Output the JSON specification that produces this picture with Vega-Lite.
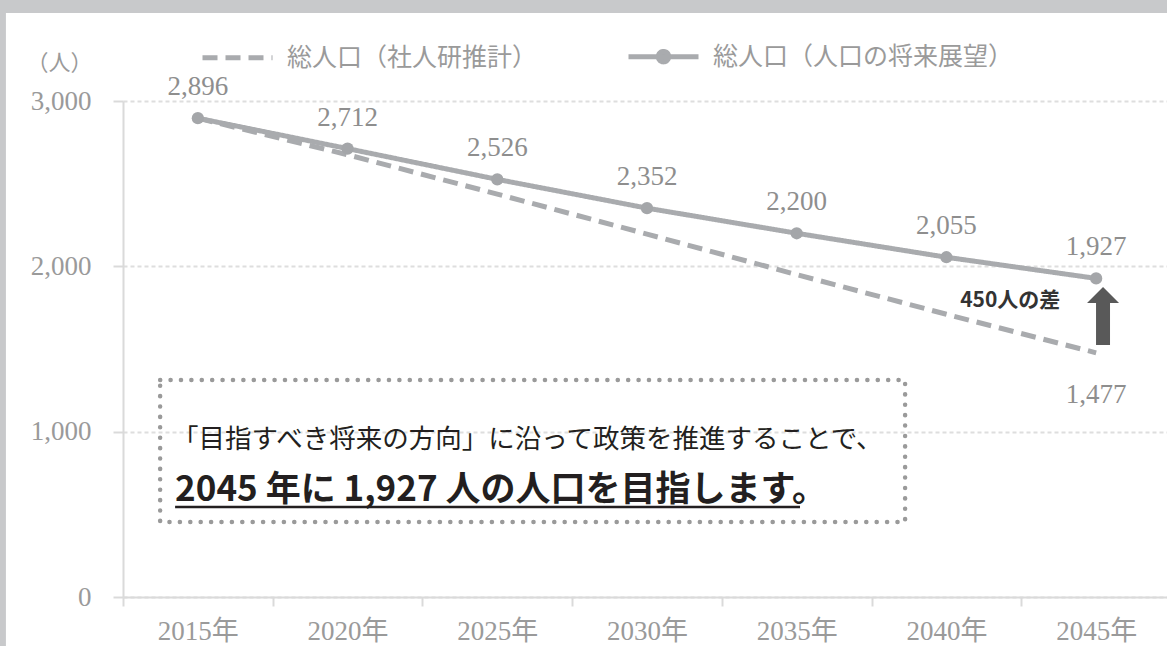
{
  "$schema": "https://vega.github.io/schema/vega-lite/v6.json",
  "width": 1044,
  "height": 496,
  "autosize": "none",
  "padding": {"left": 123, "top": 101, "right": 0, "bottom": 49},
  "background": "white",
  "config": {"view": {"stroke": null}, "font": "Noto Sans CJK JP"},
  "datasets": {
    "pop": [
      {"year": "2015年", "series": "総人口（社人研推計）", "value": 2896},
      {"year": "2020年", "series": "総人口（社人研推計）", "value": 2675},
      {"year": "2025年", "series": "総人口（社人研推計）", "value": 2437},
      {"year": "2030年", "series": "総人口（社人研推計）", "value": 2195},
      {"year": "2035年", "series": "総人口（社人研推計）", "value": 1950},
      {"year": "2040年", "series": "総人口（社人研推計）", "value": 1710},
      {"year": "2045年", "series": "総人口（社人研推計）", "value": 1477},
      {"year": "2015年", "series": "総人口（人口の将来展望）", "value": 2896},
      {"year": "2020年", "series": "総人口（人口の将来展望）", "value": 2712},
      {"year": "2025年", "series": "総人口（人口の将来展望）", "value": 2526},
      {"year": "2030年", "series": "総人口（人口の将来展望）", "value": 2352},
      {"year": "2035年", "series": "総人口（人口の将来展望）", "value": 2200},
      {"year": "2040年", "series": "総人口（人口の将来展望）", "value": 2055},
      {"year": "2045年", "series": "総人口（人口の将来展望）", "value": 1927}
    ],
    "notes": [
      {"line1": "「目指すべき将来の方向」に沿って政策を推進することで、", "line2": "2045 年に 1,927 人の人口を目指します。", "gap": "450人の差"}
    ]
  },
  "resolve": {"scale": {"x": "independent", "y": "independent"}},
  "layer": [
    {
      "data": {"name": "pop"},
      "layer": [
        {
          "mark": {"type": "line", "color": "#a9abae", "strokeWidth": 5},
          "encoding": {
            "x": {
              "field": "year", "type": "nominal", "sort": null,
              "scale": {"type": "band", "paddingInner": 0, "paddingOuter": 0, "range": [0, 1048]},
              "axis": {
                "title": null, "tickBand": "extent", "labelAngle": 0,
                "domainColor": "#dadada", "domainWidth": 2,
                "tickColor": "#dadada", "tickWidth": 2, "tickSize": 9,
                "labelFont": "Liberation Serif, Noto Sans CJK JP", "labelFontSize": 27,
                "labelColor": "#9a9a9a", "labelPadding": 12, "grid": false
              }
            },
            "y": {
              "field": "value", "type": "quantitative",
              "scale": {"domain": [0, 3000]},
              "axis": {
                "title": "（人）", "titleAngle": 0, "titleX": -64, "titleY": -39,
                "titleAlign": "center", "titleBaseline": "middle",
                "titleFont": "Noto Sans CJK JP", "titleFontWeight": "normal",
                "titleFontSize": 22, "titleColor": "#9a9a9a",
                "values": [0, 1000, 2000, 3000], "format": ",.0f",
                "labelFont": "Liberation Serif", "labelFontSize": 27,
                "labelColor": "#9a9a9a", "labelPadding": 22,
                "tickSize": 10, "tickColor": "#dadada", "tickWidth": 2,
                "domainColor": "#dadada", "domainWidth": 2,
                "grid": true, "gridColor": "#dedede", "gridDash": [4, 3], "gridWidth": 2
              }
            },
            "strokeDash": {
              "field": "series", "type": "nominal",
              "scale": {"domain": ["総人口（社人研推計）", "総人口（人口の将来展望）"], "range": [[15, 8], [1, 0]]},
              "legend": {
                "orient": "none", "legendX": 77, "legendY": -82, "direction": "horizontal",
                "title": null, "padding": 0,
                "symbolType": "stroke", "symbolSize": 4900, "symbolStrokeWidth": 5,
                "symbolStrokeColor": "#a9abae",
                "labelFont": "Noto Sans CJK JP", "labelFontSize": 25, "labelColor": "#9a9a9a",
                "labelOffset": 12, "columnPadding": 80, "labelLimit": 600,
                "encode": {
                  "symbols": {
                    "update": {
                      "shape": {"signal": "datum.value === '総人口（人口の将来展望）' ? 'M-1,0L1,0M0.15,0A0.15,0.15,0,1,1,-0.15,0A0.15,0.15,0,1,1,0.15,0Z' : 'stroke'"},
                      "fill": {"signal": "datum.value === '総人口（人口の将来展望）' ? '#a4a6a9' : 'transparent'"},
                      "stroke": {"value": "#a9abae"},
                      "strokeWidth": {"value": 5},
                      "strokeDash": {"signal": "datum.value === '総人口（社人研推計）' ? [15, 8] : [1, 0]"},
                      "opacity": {"value": 1},
                      "size": {"value": 4900}
                    }
                  }
                }
              }
            }
          }
        },
        {
          "transform": [{"filter": "datum.series === '総人口（人口の将来展望）'"}],
          "mark": {"type": "circle", "color": "#a4a6a9", "opacity": 1, "size": 150},
          "encoding": {
            "x": {"field": "year", "type": "nominal", "sort": null},
            "y": {"field": "value", "type": "quantitative"}
          }
        },
        {
          "transform": [{"filter": "datum.series === '総人口（人口の将来展望）'"}],
          "mark": {"type": "text", "dy": -31, "baseline": "middle", "align": "center", "font": "Liberation Serif", "fontSize": 27, "color": "#8e8e8e"},
          "encoding": {
            "x": {"field": "year", "type": "nominal", "sort": null},
            "y": {"field": "value", "type": "quantitative"},
            "text": {"field": "value", "type": "quantitative", "format": ",.0f"}
          }
        },
        {
          "transform": [{"filter": "datum.series === '総人口（社人研推計）' && datum.year === '2045年'"}],
          "mark": {"type": "text", "dy": 42, "baseline": "middle", "align": "center", "font": "Liberation Serif", "fontSize": 27, "color": "#8e8e8e"},
          "encoding": {
            "x": {"field": "year", "type": "nominal", "sort": null},
            "y": {"field": "value", "type": "quantitative"},
            "text": {"field": "value", "type": "quantitative", "format": ",.0f"}
          }
        }
      ]
    },
    {
      "data": {"name": "notes"},
      "layer": [
        {
          "mark": {"type": "rect", "color": "#c8c9cb"},
          "encoding": {
            "x": {"datum": 2007.5, "type": "quantitative", "scale": {"domain": [2012.5, 2047.5], "range": [0, 1048], "zero": false, "nice": false}, "axis": null},
            "x2": {"datum": 2008.59},
            "y": {"datum": -400, "type": "quantitative", "scale": {"domain": [0, 3000]}, "axis": null},
            "y2": {"datum": 3800}
          }
        },
        {
          "mark": {"type": "rect", "color": "#c8c9cb"},
          "encoding": {
            "x": {"datum": 2007.5, "type": "quantitative", "scale": {"domain": [2012.5, 2047.5], "range": [0, 1048], "zero": false, "nice": false}, "axis": null},
            "x2": {"datum": 2049},
            "y": {"datum": 3532, "type": "quantitative", "scale": {"domain": [0, 3000]}, "axis": null},
            "y2": {"datum": 3800}
          }
        },
        {
          "mark": {"type": "rect", "filled": false, "stroke": "#9a9a9a", "strokeWidth": 4.5, "strokeDash": [0.1, 10.3], "strokeCap": "round"},
          "encoding": {
            "x": {"datum": 2013.74, "type": "quantitative", "scale": {"domain": [2012.5, 2047.5], "range": [0, 1048], "zero": false, "nice": false}, "axis": null},
            "x2": {"datum": 2038.62},
            "y": {"datum": 1312, "type": "quantitative", "scale": {"domain": [0, 3000]}, "axis": null},
            "y2": {"datum": 454}
          }
        },
        {
          "mark": {"type": "text", "align": "left", "baseline": "middle", "font": "Noto Sans CJK JP", "fontSize": 26.5, "color": "#231f20"},
          "encoding": {
            "x": {"datum": 2014.14, "type": "quantitative", "scale": {"domain": [2012.5, 2047.5], "range": [0, 1048], "zero": false, "nice": false}, "axis": null},
            "y": {"datum": 950, "type": "quantitative", "scale": {"domain": [0, 3000]}, "axis": null},
            "text": {"field": "line1"}
          }
        },
        {
          "mark": {"type": "text", "align": "left", "baseline": "middle", "font": "Noto Sans CJK JP", "fontSize": 35, "fontWeight": "bold", "color": "#231f20"},
          "encoding": {
            "x": {"datum": 2014.24, "type": "quantitative", "scale": {"domain": [2012.5, 2047.5], "range": [0, 1048], "zero": false, "nice": false}, "axis": null},
            "y": {"datum": 647, "type": "quantitative", "scale": {"domain": [0, 3000]}, "axis": null},
            "text": {"field": "line2"}
          }
        },
        {
          "mark": {"type": "rule", "color": "#231f20", "strokeWidth": 2.5},
          "encoding": {
            "x": {"datum": 2014.24, "type": "quantitative", "scale": {"domain": [2012.5, 2047.5], "range": [0, 1048], "zero": false, "nice": false}, "axis": null},
            "x2": {"datum": 2035.11},
            "y": {"datum": 544, "type": "quantitative", "scale": {"domain": [0, 3000]}, "axis": null}
          }
        },
        {
          "mark": {"type": "text", "align": "center", "baseline": "middle", "font": "Noto Sans CJK JP", "fontSize": 21, "fontWeight": "bold", "color": "#333333"},
          "encoding": {
            "x": {"datum": 2042.13, "type": "quantitative", "scale": {"domain": [2012.5, 2047.5], "range": [0, 1048], "zero": false, "nice": false}, "axis": null},
            "y": {"datum": 1790, "type": "quantitative", "scale": {"domain": [0, 3000]}, "axis": null},
            "text": {"field": "gap"}
          }
        },
        {
          "mark": {"type": "point", "filled": true, "color": "#595959", "opacity": 1, "strokeWidth": 0, "size": 3364, "shape": "M0,-1L0.552,-0.448L0.241,-0.448L0.241,1L-0.241,1L-0.241,-0.448L-0.552,-0.448Z"},
          "encoding": {
            "x": {"datum": 2045.23, "type": "quantitative", "scale": {"domain": [2012.5, 2047.5], "range": [0, 1048], "zero": false, "nice": false}, "axis": null},
            "y": {"datum": 1700, "type": "quantitative", "scale": {"domain": [0, 3000]}, "axis": null}
          }
        }
      ]
    }
  ]
}
